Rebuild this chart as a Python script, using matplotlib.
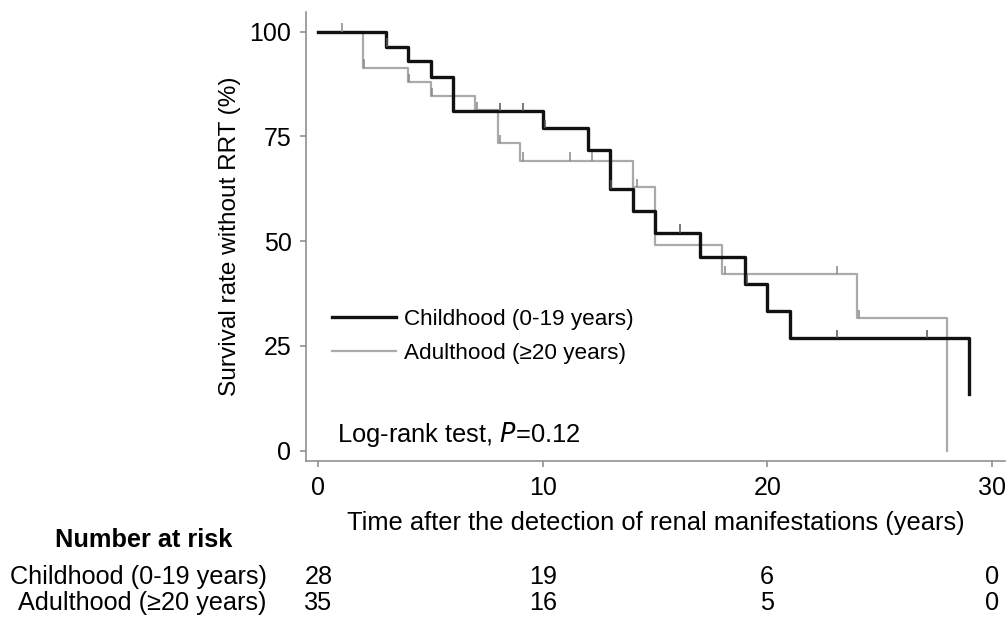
import numpy as np
import matplotlib
matplotlib.use("Agg")
import matplotlib.pyplot as plt
from matplotlib.transforms import blended_transform_factory

plt.rcParams['font.family'] = ['Liberation Sans', 'DejaVu Sans']

# Kaplan-Meier steps
child_t = [0, 3, 4, 5, 6, 10, 12, 13, 14, 15, 17, 19, 20, 21, 29]
child_s = [100, 96.4, 92.9, 89.3, 81.0, 76.9, 71.8, 62.5, 57.1, 52.0, 46.3, 39.8, 33.4, 26.8, 13.4]
adult_t = [0, 2, 4, 5, 7, 8, 9, 14, 15, 18, 24, 28]
adult_s = [100, 91.4, 88.0, 84.6, 81.2, 73.4, 69.2, 62.9, 49.0, 42.1, 31.6, 0]

# censoring times
child_cens = [3.05, 8.1, 9.1, 10.1, 13.05, 16.1, 19.1, 23.1, 27.1]
adult_cens = [1.05, 2.05, 4.05, 5.05, 7.05, 8.1, 9.1, 11.2, 12.2, 14.2, 18.1, 23.1, 24.1]

labels = ['Childhood (0-19 years)', 'Adulthood (\u226520 years)']
risk_times = [0, 10, 20, 30]
risk_child = [28, 19, 6, 0]
risk_adult = [35, 16, 5, 0]


def surv_at(times, surv, t):
    idx = np.searchsorted(times, t, side='right') - 1
    return np.array(surv)[idx]


fig = plt.figure(figsize=(10.06, 6.17), dpi=100)
ax = fig.add_axes([0.3042, 0.2528, 0.695, 0.7277])

ax.step(child_t, child_s, where='post', color='#111111', lw=2.4, label=labels[0], zorder=3)
ax.step(adult_t, adult_s, where='post', color='#aaaaaa', lw=1.6, label=labels[1], zorder=2)

cy = surv_at(child_t, child_s, child_cens)
ay = surv_at(adult_t, adult_s, adult_cens)
ax.vlines(child_cens, cy, cy + 2, color='#555555', lw=1.1, zorder=4)
ax.vlines(adult_cens, ay, ay + 2, color='#888888', lw=1.1, zorder=4)

ax.set_xlim(-0.55, 30.6)
ax.set_ylim(-2.5, 104.7)
ax.set_xticks([0, 10, 20, 30])
ax.set_yticks([0, 25, 50, 75, 100])

for side in ['top', 'right']:
    ax.spines[side].set_visible(False)
for side in ['left', 'bottom']:
    ax.spines[side].set_color('#888888')
    ax.spines[side].set_linewidth(1.1)
ax.tick_params(axis='both', colors='#888888', labelcolor='black', labelsize=18,
               length=4.5, width=1.1, pad=6)

ax.set_xlabel('Time after the detection of renal manifestations (years)', fontsize=18.4, labelpad=8)
ax.set_ylabel('Survival rate without RRT (%)', fontsize=17.6, labelpad=6)

leg = ax.legend(loc='upper left', bbox_to_anchor=(0.024, 0.358), frameon=False, fontsize=16.2,
                handlelength=2.85, handletextpad=0.35, labelspacing=0.58, borderaxespad=0)

ax.text(0.044, 0.058, 'Log-rank test, $\\it{P}$=0.12', transform=ax.transAxes,
        fontsize=18.4, va='center', ha='left')

# number at risk table
tr = blended_transform_factory(ax.transData, fig.transFigure)
fig.text(0.143, 1 - 540 / 617, 'Number at risk', fontsize=18.3, fontweight='bold',
         ha='center', va='center')
row_y = [1 - 577 / 617, 1 - 603 / 617]
for lab, yy, risk in zip(labels, row_y, [risk_child, risk_adult]):
    fig.text(0.2654, yy, lab, fontsize=18.2, ha='right', va='center')
    for t, n in zip(risk_times, risk):
        ax.text(t, yy, str(n), transform=tr, fontsize=18.2, ha='center', va='center')

fig.savefig('out.png', dpi=100)
